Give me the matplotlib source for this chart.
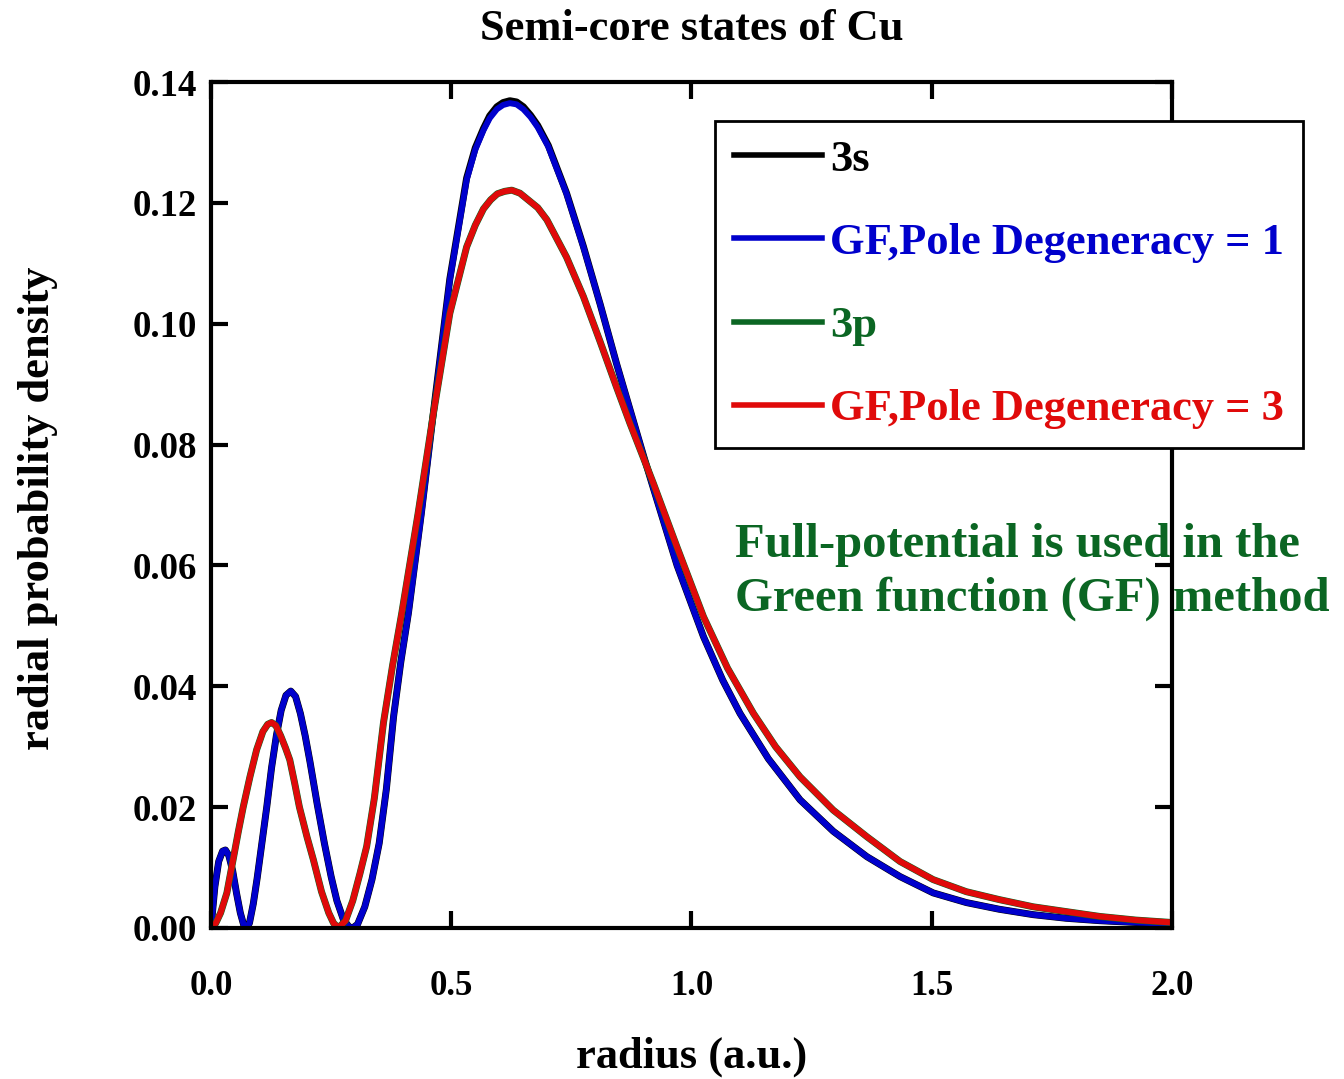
import numpy as np
import matplotlib
matplotlib.use('Agg')
import matplotlib.pyplot as plt

plt.rcParams['font.family'] = ['Liberation Serif', 'DejaVu Serif']
plt.rcParams['font.weight'] = 'bold'
plt.rcParams['axes.labelweight'] = 'bold'
plt.rcParams['axes.titleweight'] = 'bold'

# 3s state / GF pole degeneracy = 1
r_s = [0.000, 0.008, 0.016, 0.024, 0.030, 0.037, 0.045, 0.053, 0.061, 0.068,
       0.074, 0.080, 0.088, 0.096, 0.105, 0.116, 0.126, 0.136, 0.146, 0.156,
       0.166, 0.176, 0.186, 0.196, 0.206, 0.221, 0.236, 0.250, 0.262, 0.275,
       0.287, 0.295, 0.305, 0.320, 0.335, 0.350, 0.365, 0.380, 0.395, 0.411,
       0.438, 0.463, 0.497, 0.532, 0.550, 0.567, 0.580, 0.595, 0.608, 0.622,
       0.636, 0.650, 0.665, 0.680, 0.702, 0.740, 0.775, 0.810, 0.844, 0.872,
       0.900, 0.921, 0.970, 1.025, 1.065, 1.101, 1.160, 1.226, 1.295, 1.365,
       1.434, 1.503, 1.572, 1.640, 1.711, 1.780, 1.850, 1.925, 2.000]
gf1 = [0.0000, 0.0068, 0.0110, 0.0127, 0.0129, 0.0120, 0.0095, 0.0058, 0.0025, 0.0005,
       0.0000, 0.0008, 0.0040, 0.0082, 0.0135, 0.0200, 0.0265, 0.0318, 0.0360, 0.0385,
       0.0392, 0.0383, 0.0355, 0.0318, 0.0275, 0.0205, 0.0140, 0.0085, 0.0045, 0.0015,
       0.0002, 0.0000, 0.0006, 0.0035, 0.0080, 0.0140, 0.0230, 0.0350, 0.0440, 0.0521,
       0.0686, 0.0852, 0.1072, 0.1238, 0.1288, 0.1320, 0.1340, 0.1355, 0.1362, 0.1365,
       0.1363, 0.1355, 0.1342, 0.1325, 0.1293, 0.1215, 0.1127, 0.1032, 0.0934, 0.0858,
       0.0782, 0.0727, 0.0600, 0.0482, 0.0410, 0.0355, 0.0280, 0.0212, 0.0160, 0.0118,
       0.0085, 0.0058, 0.0042, 0.0031, 0.0022, 0.0016, 0.0012, 0.0009, 0.0007]
s3 = [0.0000, 0.0068, 0.0110, 0.0127, 0.0129, 0.0120, 0.0095, 0.0058, 0.0025, 0.0005,
      0.0000, 0.0008, 0.0040, 0.0082, 0.0135, 0.0200, 0.0265, 0.0318, 0.0360, 0.0385,
      0.0392, 0.0383, 0.0355, 0.0318, 0.0275, 0.0205, 0.0140, 0.0085, 0.0045, 0.0015,
      0.0002, 0.0000, 0.0006, 0.0035, 0.0080, 0.0140, 0.0230, 0.0350, 0.0440, 0.0522,
      0.0688, 0.0854, 0.1074, 0.1241, 0.1291, 0.1323, 0.1344, 0.1359, 0.1366, 0.1369,
      0.1367, 0.1359, 0.1345, 0.1328, 0.1295, 0.1216, 0.1128, 0.1032, 0.0934, 0.0858,
      0.0782, 0.0727, 0.0600, 0.0482, 0.0410, 0.0355, 0.0280, 0.0212, 0.0160, 0.0118,
      0.0085, 0.0058, 0.0042, 0.0031, 0.0022, 0.0016, 0.0012, 0.0009, 0.0007]

# 3p state / GF pole degeneracy = 3
r_p = [0.000, 0.010, 0.020, 0.033, 0.046, 0.057, 0.067, 0.081, 0.095, 0.108,
       0.118, 0.126, 0.135, 0.145, 0.155, 0.164, 0.174, 0.184, 0.200, 0.213,
       0.230, 0.245, 0.255, 0.265, 0.280, 0.295, 0.310, 0.324, 0.340, 0.359,
       0.378, 0.397, 0.431, 0.463, 0.497, 0.532, 0.550, 0.567, 0.582, 0.596,
       0.611, 0.626, 0.643, 0.660, 0.680, 0.699, 0.740, 0.775, 0.810, 0.844,
       0.872, 0.900, 0.921, 0.970, 1.025, 1.075, 1.129, 1.175, 1.226, 1.295,
       1.365, 1.434, 1.503, 1.572, 1.640, 1.711, 1.780, 1.850, 1.925, 2.000]
gf3 = [0.0000, 0.0008, 0.0025, 0.0058, 0.0113, 0.0160, 0.0200, 0.0250, 0.0295, 0.0325,
       0.0337, 0.0340, 0.0335, 0.0318, 0.0298, 0.0278, 0.0240, 0.0200, 0.0150, 0.0113,
       0.0060, 0.0025, 0.0008, 0.0000, 0.0012, 0.0045, 0.0090, 0.0135, 0.0215, 0.0340,
       0.0435, 0.0521, 0.0686, 0.0852, 0.1017, 0.1127, 0.1163, 0.1190, 0.1205, 0.1215,
       0.1219, 0.1221, 0.1216, 0.1205, 0.1192, 0.1172, 0.1110, 0.1045, 0.0970, 0.0895,
       0.0835, 0.0778, 0.0735, 0.0630, 0.0515, 0.0430, 0.0355, 0.0300, 0.0250, 0.0195,
       0.0151, 0.0110, 0.0080, 0.0060, 0.0047, 0.0035, 0.0027, 0.0019, 0.0013, 0.0009]
p3 = gf3

labels = ['3s', 'GF,Pole Degeneracy = 1', '3p', 'GF,Pole Degeneracy = 3']
colors = ['#000000', '#0000cc', '#0b6623', '#e00a0a']

fig = plt.figure(figsize=(13.44, 10.79), dpi=100)
ax = fig.add_axes([0.157, 0.140, 0.715, 0.784])

ax.plot(r_s, s3, color=colors[0], lw=5.0, label=labels[0], solid_joinstyle='round')
ax.plot(r_s, gf1, color=colors[1], lw=4.3, label=labels[1], solid_joinstyle='round')
ax.plot(r_p, p3, color=colors[2], lw=5.0, label=labels[2], solid_joinstyle='round')
ax.plot(r_p, gf3, color=colors[3], lw=4.3, label=labels[3], solid_joinstyle='round')

ax.set_xlim(0, 2.0)
ax.set_ylim(0, 0.14)
ax.set_xticks([0.0, 0.5, 1.0, 1.5, 2.0])
ax.set_xticklabels(['0.0', '0.5', '1.0', '1.5', '2.0'])
ax.set_yticks(np.arange(0, 0.141, 0.02))
ax.set_yticklabels(['%.2f' % v for v in np.arange(0, 0.141, 0.02)])
ax.tick_params(direction='in', length=12, width=3, top=True, right=True)
ax.tick_params(axis='x', labelsize=25, pad=30)
ax.tick_params(axis='y', labelsize=26.5, pad=10)
for sp in ax.spines.values():
    sp.set_linewidth(3)

ax.set_xlabel('radius (a.u.)', fontsize=32)
ax.xaxis.set_label_coords(0.5, -0.128)
ax.set_ylabel('radial probability density', fontsize=32)
ax.yaxis.set_label_coords(-0.159, 0.496)
ax.set_title('Semi-core states of Cu', fontsize=32, pad=30)

leg = ax.legend(loc='upper right', bbox_to_anchor=(1.1363, 0.954), fontsize=32,
                handlelength=2.0, handletextpad=0.18, labelspacing=0.97,
                borderpad=0.42, fancybox=False, framealpha=1, borderaxespad=0)
leg.get_frame().set_edgecolor('black')
leg.get_frame().set_linewidth(2)
for t, c in zip(leg.get_texts(), colors):
    t.set_color(c)
for h in leg.get_lines():
    h.set_linewidth(4)

ax.text(0.545, 0.421, 'Full-potential is used in the\nGreen function (GF) method',
        transform=ax.transAxes, fontsize=35, color='#0b6623', ha='left', va='center',
        linespacing=1.27, clip_on=False)

fig.savefig('out.png', dpi=100)
